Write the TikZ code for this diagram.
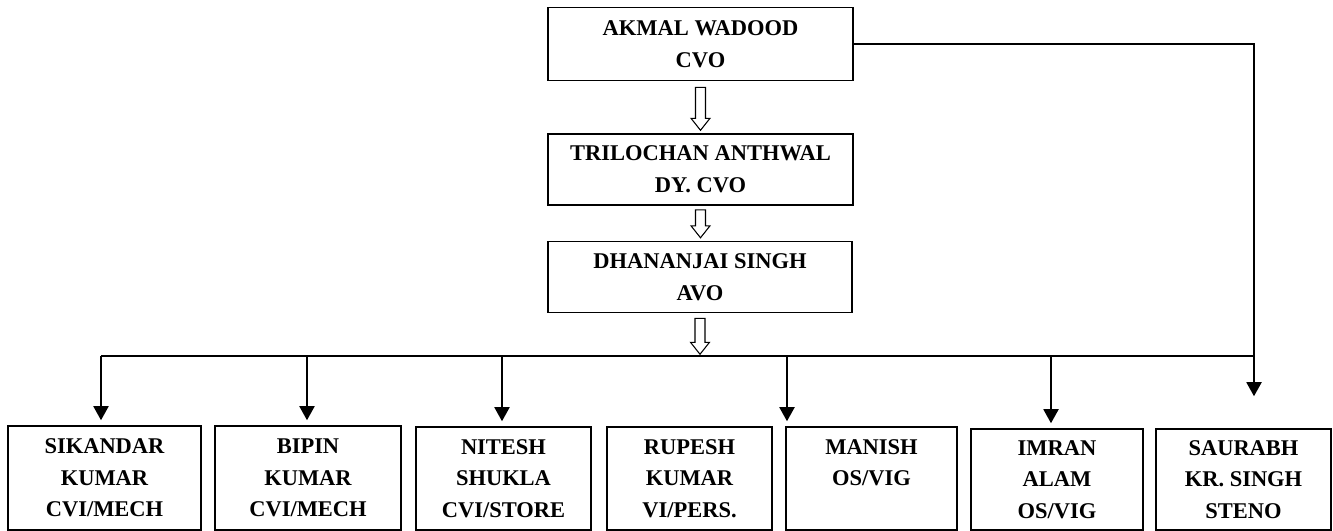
\documentclass[tikz,border=0pt]{standalone}
\usepackage{fontspec}
\setmainfont{Liberation Serif}
\usetikzlibrary{arrows.meta}

\begin{document}
\begin{tikzpicture}[x=0.02cm, y=-0.02cm,
    box/.style={draw, line width=0.9pt, align=center, inner sep=0pt,
        font=\bfseries\fontsize{12.8}{18}\selectfont},
    tip/.style={-{Triangle[width=0.3cm,length=0.28cm]}, line width=1.1pt, shorten >=0.1cm},
    pics/hollowarrow/.style={code={
        \draw[line width=0.6pt] (-5,0) -- (5,0) -- (5,#1) -- (9.5,#1) -- (0,#1+12)
            -- (-9.5,#1) -- (-5,#1) -- cycle;}}]
    \useasboundingbox (0,0) rectangle (1333,531);
    % officers at the top
    \node[box, minimum width=6.1cm, minimum height=1.46cm] (cvo) at (700.5,44) {AKMAL WADOOD\\CVO};
    \node[box, minimum width=6.1cm, minimum height=1.42cm] (dycvo) at (700.5,169.5) {TRILOCHAN ANTHWAL\\DY. CVO};
    \node[box, minimum width=6.08cm, minimum height=1.42cm] (avo) at (700,277) {DHANANJAI SINGH\\AVO};
    \pic at ([yshift=-0.12cm]cvo.south) {hollowarrow=31};
    \pic at ([yshift=-0.08cm]dycvo.south) {hollowarrow=16};
    \pic at ([yshift=-0.1cm]avo.south) {hollowarrow=24};
    % staff boxes
    \node[box, minimum width=3.86cm, minimum height=2.08cm] (sik) at (104.5,478) {SIKANDAR\\KUMAR\\CVI/MECH};
    \node[box, minimum width=3.72cm, minimum height=2.08cm] (bip) at (308,478) {BIPIN\\KUMAR\\CVI/MECH};
    \node[box, minimum width=3.5cm, minimum height=2.06cm] (nit) at (503.5,478.5) {NITESH\\SHUKLA\\CVI/STORE};
    \node[box, minimum width=3.3cm, minimum height=2.06cm] (rup) at (689.5,478.5) {RUPESH\\KUMAR\\VI/PERS.};
    \node[box, minimum width=3.42cm, minimum height=2.06cm] (man) at (871.5,478.5) {MANISH\\OS/VIG\\~};
    \node[box, minimum width=3.44cm, minimum height=2.02cm] (imr) at (1057,479.5) {IMRAN\\ALAM\\OS/VIG};
    \node[box, minimum width=3.5cm, minimum height=2.02cm] (sau) at (1243.5,479.5) {SAURABH\\KR. SINGH\\STENO};
    % bus line
    \coordinate (b1) at (101,356);
    \coordinate (b2) at (307,356);
    \coordinate (b3) at (502,356);
    \coordinate (b4) at (787,356);
    \coordinate (b5) at (1051,356);
    \coordinate (b6) at (1254,356);
    \draw[line width=1.1pt] (b1) -- (b6);
    \foreach \b/\n in {b1/sik, b2/bip, b3/nit, b4/man, b5/imr}
        \draw[tip] (\b) -- (\b |- \n.north);
    \draw[tip, shorten >=0.64cm] (cvo.east) -- (cvo.east -| b6) -- (b6 |- sau.north);
\end{tikzpicture}
\end{document}
